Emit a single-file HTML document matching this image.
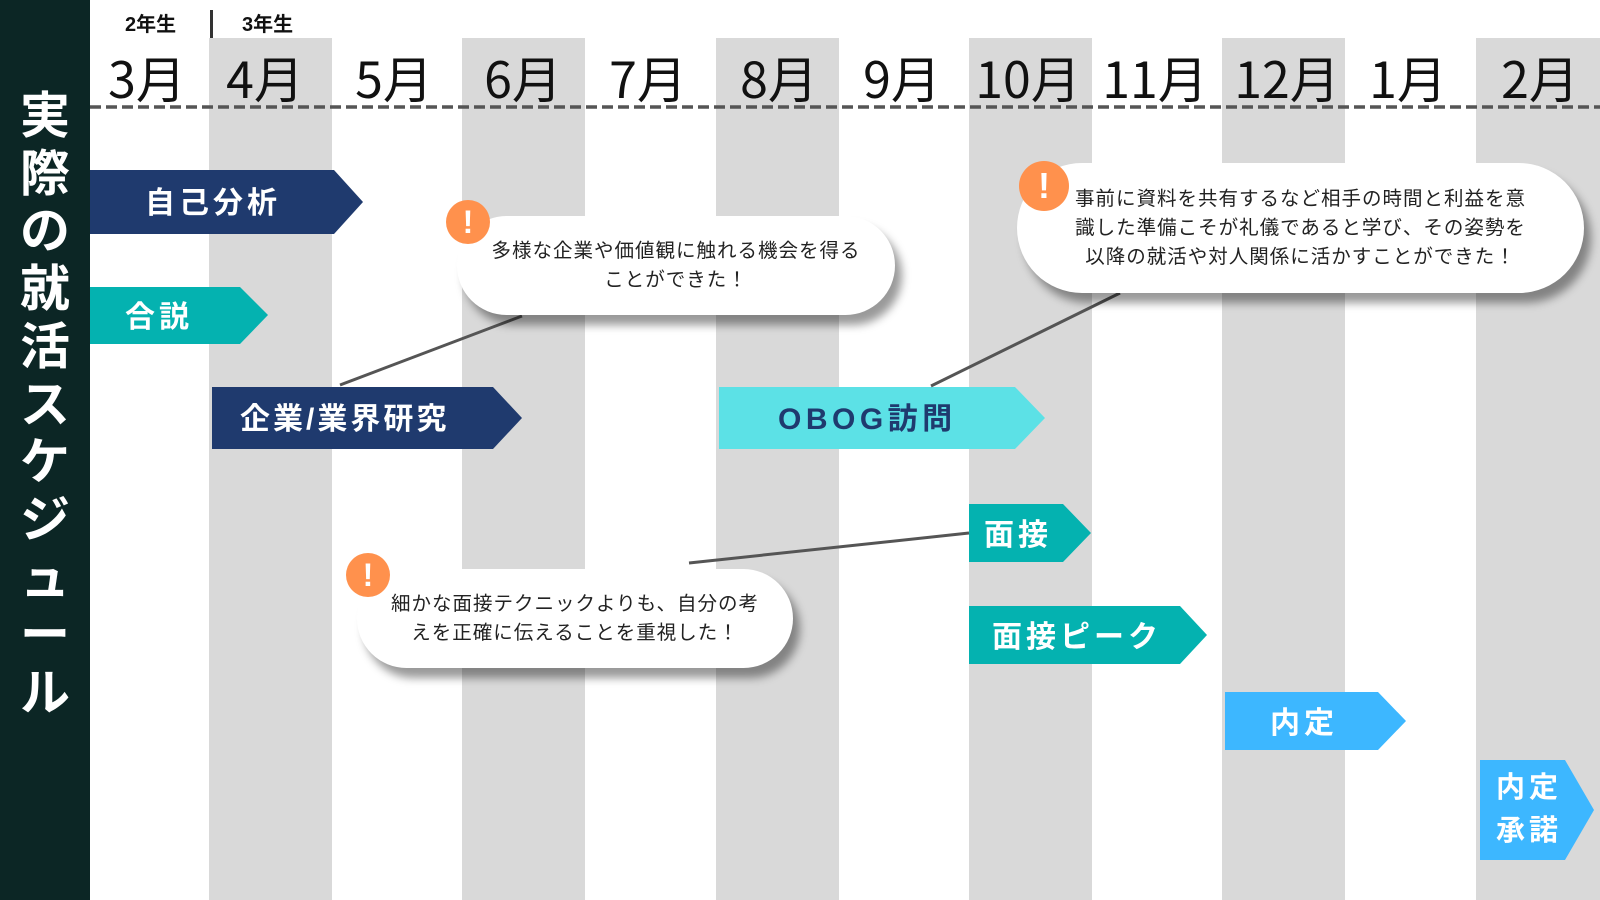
<!DOCTYPE html>
<html><head><meta charset="utf-8"><style>
*{margin:0;padding:0;box-sizing:border-box}
body{width:1600px;height:900px;position:relative;overflow:hidden;background:#fff;font-family:"Liberation Sans","Noto Sans CJK JP",sans-serif}
.a{position:absolute}
.band{position:absolute;top:38px;bottom:0;width:123px;background:#d9d9d9}
.m{position:absolute;top:44px;font-family:"Noto Sans CJK JP",sans-serif;font-size:50px;line-height:66px;color:#111;transform:translateX(-50%);white-space:nowrap}
.lbl{position:absolute;color:#fff;font-weight:bold;font-size:30px;white-space:nowrap;letter-spacing:4px}
.bub{position:absolute;background:#fff;border-radius:50px;box-shadow:7px 10px 9px rgba(0,0,0,.4);display:flex;align-items:center;justify-content:center;text-align:center;font-size:19.5px;line-height:29px;color:#222;letter-spacing:1px}
.ex{position:absolute;border-radius:50%;background:#ff914d;color:#fff;font-weight:bold;text-align:center}
</style></head><body>
<div class="band" style="left:209px"></div>
<div class="band" style="left:462px"></div>
<div class="band" style="left:716px"></div>
<div class="band" style="left:969px"></div>
<div class="band" style="left:1222px"></div>
<div class="band" style="left:1476px;width:124px"></div>

<div class="a" style="left:0;top:0;width:90px;height:900px;background:#0c2625"></div>
<div class="a" style="left:19px;top:88px;width:52px;color:#fff;font-weight:bold;font-size:50px;line-height:57.7px;text-align:center">実<br>際<br>の<br>就<br>活<br>ス<br>ケ<br>ジ<br>ュ<br>ー<br>ル</div>

<div class="a" style="left:125px;top:8px;font-size:20px;font-weight:bold;color:#111">2年生</div>
<div class="a" style="left:210px;top:10px;width:3px;height:28px;background:#333"></div>
<div class="a" style="left:242px;top:8px;font-size:20px;font-weight:bold;color:#111">3年生</div>

<div class="m" style="left:147px">3月</div>
<div class="m" style="left:265px">4月</div>
<div class="m" style="left:394px">5月</div>
<div class="m" style="left:523px">6月</div>
<div class="m" style="left:648px">7月</div>
<div class="m" style="left:779px">8月</div>
<div class="m" style="left:902px">9月</div>
<div class="m" style="left:1028px">10月</div>
<div class="m" style="left:1155px">11月</div>
<div class="m" style="left:1287px">12月</div>
<div class="m" style="left:1408px">1月</div>
<div class="m" style="left:1540px">2月</div>

<svg class="a" style="left:0;top:0" width="1600" height="900">
<line x1="90" y1="107" x2="1600" y2="107" stroke="#555" stroke-width="3.5" stroke-dasharray="11,5"/>
<polygon points="90,170 334,170 363,202 334,234 90,234" fill="#1f3a6e"/>
<polygon points="90,287 240,287 268,315 240,344 90,344" fill="#04b2b0"/>
<polygon points="212,387 493,387 522,418 493,449 212,449" fill="#1f3a6e"/>
<polygon points="719,387 1015,387 1045,418 1015,449 719,449" fill="#5ce1e6"/>
<polygon points="969,504 1063,504 1091,533 1063,562 969,562" fill="#04b2b0"/>
<polygon points="969,606 1180,606 1207,635 1180,664 969,664" fill="#04b2b0"/>
<polygon points="1225,692 1378,692 1406,721 1378,750 1225,750" fill="#3db7ff"/>
<polygon points="1480,760 1565,760 1594,810 1565,860 1480,860" fill="#3db7ff"/>
<line x1="522" y1="316" x2="340" y2="385" stroke="#555" stroke-width="3"/>
<line x1="1120" y1="293" x2="931" y2="386" stroke="#555" stroke-width="3"/>
<line x1="689" y1="563" x2="969" y2="533" stroke="#555" stroke-width="3"/>
</svg>

<div class="lbl" style="left:145px;top:178px">自己分析</div>
<div class="lbl" style="left:125px;top:292px">合説</div>
<div class="lbl" style="left:240px;top:394px;letter-spacing:3px">企業/業界研究</div>
<div class="lbl" style="left:778px;top:394px;color:#1f3a6e;letter-spacing:4.5px">OBOG訪問</div>
<div class="lbl" style="left:984px;top:510px">面接</div>
<div class="lbl" style="left:992px;top:612px">面接ピーク</div>
<div class="lbl" style="left:1270px;top:698px">内定</div>
<div class="lbl" style="left:1496px;top:767px;line-height:43px;font-size:29px">内定<br>承諾</div>

<div class="bub" style="left:457px;top:216px;width:438px;height:99px">多様な企業や価値観に触れる機会を得る<br>ことができた！</div>
<div class="ex" style="left:446px;top:200px;width:44px;height:44px;font-size:32px;line-height:44px">!</div>

<div class="bub" style="left:1017px;top:163px;width:567px;height:130px;border-radius:65px">事前に資料を共有するなど相手の時間と利益を意<br>識した準備こそが礼儀であると学び、その姿勢を<br>以降の就活や対人関係に活かすことができた！</div>
<div class="ex" style="left:1019px;top:161px;width:50px;height:50px;font-size:36px;line-height:50px">!</div>

<div class="bub" style="left:357px;top:569px;width:436px;height:99px">細かな面接テクニックよりも、自分の考<br>えを正確に伝えることを重視した！</div>
<div class="ex" style="left:346px;top:553px;width:44px;height:44px;font-size:32px;line-height:44px">!</div>
</body></html>
